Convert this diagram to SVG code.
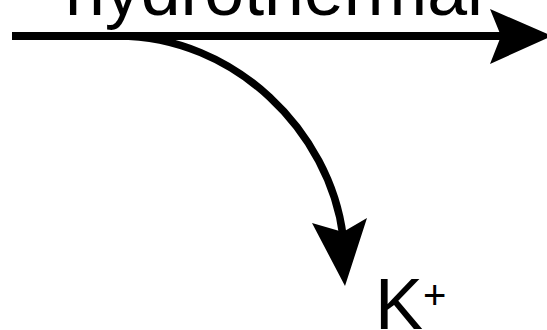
<svg xmlns="http://www.w3.org/2000/svg" width="547" height="330" viewBox="0 0 547 330">
  <style>
    .lbl { font-family: "Liberation Sans", Arial, sans-serif; fill: #000; }
    .shaft { fill: none; stroke: #000; stroke-linecap: butt; }
    .head { fill: #000; stroke: none; }
  </style>
  <rect width="547" height="330" fill="#fff"/>

  <!-- Labels -->
  <g id="hydrothermal">
    <text class="lbl" x="65" y="15" font-size="72" textLength="418" lengthAdjust="spacingAndGlyphs">hydrothermal</text>
  </g>
  <g id="potassium">
    <text class="lbl" x="375" y="329" font-size="72">K</text>
    <text class="lbl" x="423" y="309" font-size="40">+</text>
  </g>

  <!-- Connectors -->
  <g id="connectors">
    <!-- main horizontal arrow -->
    <line class="shaft" x1="12" y1="36" x2="503" y2="36" stroke-width="8"/>
    <polygon class="head" points="490,9 552,36 490,64 501,36"/>
    <!-- branch curving down to K+ -->
    <path class="shaft" d="M 118 36 C 235 36, 330 132, 343 236" stroke-width="7.5"/>
    <polygon class="head" points="312,223 343,232 367,218 345,286"/>
  </g>
</svg>
